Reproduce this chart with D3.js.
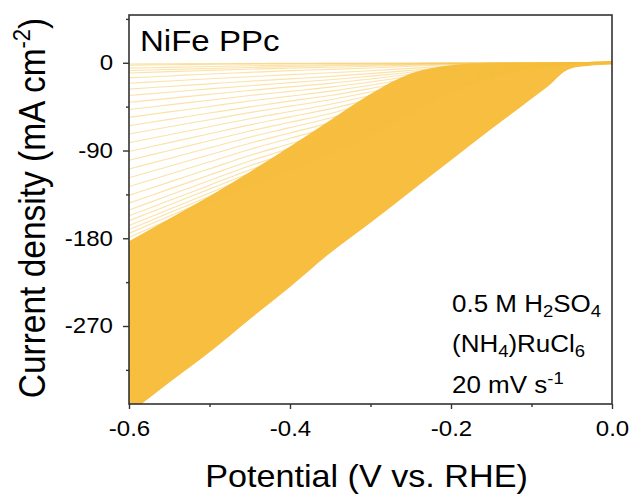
<!DOCTYPE html>
<html>
<head>
<meta charset="utf-8">
<script src="https://cdn.jsdelivr.net/npm/d3@7"></script>
<style>
  html, body { margin: 0; padding: 0; background: #fff; }
  svg { display: block; font-family: "Liberation Sans", Arial, Helvetica, sans-serif; }
</style>
</head>
<body>
<svg id="chart" width="635" height="499"></svg>
<script>
// Potential grid (V vs. RHE) for the individual LSV scans
const potentials = [-0.6, -0.55, -0.5, -0.45, -0.4, -0.35, -0.3, -0.25, -0.2, -0.15, -0.1, 0];

// Current density (mA cm-2) of the later, well separated scans
const scans = [
  [-1.2, -1.0, -0.8, -0.7, -0.5, -0.4, -0.3, -0.2, -0.1, 0, 0, 0],
  [-2.5, -2.1, -1.7, -1.4, -1.1, -0.9, -0.7, -0.5, -0.3, -0.1, 0, 0],
  [-5.5, -4.7, -3.9, -3.1, -2.5, -2.0, -1.5, -1.0, -0.6, -0.3, -0.1, 0],
  [-8.0, -6.9, -5.8, -4.8, -3.9, -3.1, -2.4, -1.6, -0.9, -0.4, -0.1, 0],
  [-10.5, -9.1, -7.8, -6.6, -5.5, -4.6, -3.6, -2.4, -1.4, -0.6, -0.2, 0],
  [-15.5, -13.5, -11.5, -9.8, -8.1, -6.8, -5.3, -3.6, -2.0, -0.9, -0.3, 0],
  [-21, -18.7, -16.4, -14.3, -12.2, -10.3, -8.2, -5.7, -3.4, -1.7, -0.6, 0],
  [-27, -24.3, -21.6, -18.9, -16.5, -14.0, -11.1, -7.8, -4.6, -2.2, -0.8, 0],
  [-33.5, -30.2, -26.8, -23.5, -20.4, -17.4, -13.7, -9.7, -5.7, -2.7, -1.0, 0],
  [-40.5, -36.5, -32.4, -28.4, -24.7, -21.1, -16.6, -11.7, -6.9, -3.2, -1.2, 0],
  [-48, -43.2, -38.4, -33.6, -29.3, -25.0, -19.7, -13.9, -8.2, -3.8, -1.4, 0],
  [-56, -50.4, -44.8, -39.2, -34.2, -29.1, -23.0, -16.2, -9.5, -4.5, -1.7, 0],
  [-64.5, -58.1, -51.6, -45.2, -39.3, -33.5, -26.4, -18.7, -11.0, -5.2, -1.9, 0],
  [-73, -65.7, -58.4, -51.1, -44.5, -38.0, -29.9, -21.2, -12.4, -5.8, -2.2, 0],
  [-82, -73.8, -65.6, -57.4, -50.0, -42.6, -33.6, -23.8, -13.9, -6.6, -2.5, 0],
  [-91, -81.9, -72.8, -63.7, -55.5, -47.3, -37.3, -26.4, -15.5, -7.3, -2.7, 0],
  [-100, -90, -80, -70, -61, -52, -41, -29, -17, -8, -3, 0],
  [-109, -98.1, -87.2, -76.3, -66.5, -56.7, -44.7, -31.6, -18.5, -8.7, -3.3, 0],
  [-118, -106.2, -94.4, -82.6, -72.0, -61.4, -48.4, -34.2, -20.1, -9.4, -3.5, 0],
  [-127, -114.3, -101.6, -88.9, -77.5, -66.0, -52.1, -36.8, -21.6, -10.2, -3.8, 0],
  [-136, -122.4, -108.8, -95.2, -83.0, -70.7, -55.8, -39.4, -23.1, -10.9, -4.1, 0],
  [-144, -129.6, -115.2, -100.8, -87.8, -74.9, -59.0, -41.8, -24.5, -11.5, -4.3, 0],
  [-151, -135.9, -120.8, -105.7, -92.1, -78.5, -61.9, -43.8, -25.7, -12.1, -4.5, 0],
  [-157, -141.3, -125.6, -109.9, -95.8, -81.6, -64.4, -45.5, -26.7, -12.6, -4.7, 0],
  [-162, -145.8, -129.6, -113.4, -98.8, -84.2, -66.4, -47.0, -27.5, -13.0, -4.9, 0],
  [-167, -150.3, -133.6, -116.9, -101.9, -86.8, -68.5, -48.4, -28.4, -13.4, -5.0, 0],
  [-171, -153.9, -136.8, -119.7, -104.3, -88.9, -70.1, -49.6, -29.1, -13.7, -5.1, 0],
  [-175, -157.5, -140, -122.5, -106.8, -91, -71.8, -50.8, -29.8, -14, -5.3, 0],
  [-179, -161.1, -143.2, -125.3, -109.2, -93.1, -73.4, -51.9, -30.4, -14.3, -5.4, 0]
];

// Densely overlapping early scans, drawn as one band:
// lower edge = first scan, upper edge = where the scans merge
const bandPotentials = [-0.6, -0.55, -0.5, -0.45, -0.4, -0.35, -0.3, -0.25, -0.2, -0.15, -0.1, -0.075, -0.06, -0.05, -0.03, -0.015, 0];
const bandLower = [-360, -328, -297, -263, -230, -195, -164, -132, -100, -68, -37, -21, -9.5, -5.5, -3.2, -2.4, -1.8];
const bandUpper = [-183, -160, -137, -112, -86, -59, -32, -11, -2.5, -0.3, 0, 0, 0, 0.3, 0.8, 1.5, 1.8];

// Axis ticks
const xTicks = [-0.6, -0.4, -0.2, 0.0];
const xMinorTicks = [-0.5, -0.3, -0.1];
const yTicks = [0, -90, -180, -270];
const yMinorTicks = [45, -45, -135, -225, -315];

const xTitle = "Potential (V vs. RHE)";
const sampleLabel = "NiFe PPc";

const W = 635, H = 499;
const margin = { left: 129, right: 23, top: 15, bottom: 95 };
const plotW = W - margin.left - margin.right;
const plotH = H - margin.top - margin.bottom;
const gold = "#F7BE3F";
const axisColor = "#333333";
const stretch = 1.12; // horizontal glyph width factor

const svg = d3.select("#chart");
const g = svg.append("g").attr("transform", `translate(${margin.left},${margin.top})`);

const x = d3.scaleLinear().domain([-0.6, 0]).range([0, plotW]);
const y = d3.scaleLinear().domain([-350, 49]).range([plotH, 0]);

g.append("clipPath").attr("id", "plotClip")
  .append("rect").attr("width", plotW).attr("height", plotH);

const plot = g.append("g").attr("clip-path", "url(#plotClip)");

// dense band of overlapping scans
const bandData = bandPotentials.map((v, i) => ({ v, lo: bandLower[i], hi: bandUpper[i] }));
plot.append("path")
  .datum(bandData)
  .attr("fill", gold)
  .attr("d", d3.area()
    .x(d => x(d.v))
    .y0(d => y(d.lo))
    .y1(d => y(d.hi))
    .curve(d3.curveMonotoneX));

// individual scans
const line = d3.line()
  .x((d, i) => x(potentials[i]))
  .y(d => y(d))
  .curve(d3.curveMonotoneX);

plot.selectAll("path.scan")
  .data(scans)
  .join("path")
  .attr("class", "scan")
  .attr("fill", "none")
  .attr("stroke", gold)
  .attr("stroke-opacity", 0.45)
  .attr("stroke-width", 1.1)
  .attr("d", line);

// axes
function styleAxis(sel) {
  sel.select(".domain").remove();
  sel.selectAll(".tick line").attr("stroke", axisColor).attr("stroke-width", 1.4);
  sel.selectAll(".tick text").attr("fill", "#000").attr("font-size", 21.5);
}

const xAxis = g.append("g").attr("transform", `translate(0,${plotH})`)
  .call(d3.axisBottom(x).tickValues(xTicks).tickSize(5).tickPadding(12)
    .tickFormat(d => d.toFixed(1)));
styleAxis(xAxis);
xAxis.selectAll(".tick text").attr("transform", `scale(${stretch},1)`);

const xMinor = g.append("g").attr("transform", `translate(0,${plotH})`)
  .call(d3.axisBottom(x).tickValues(xMinorTicks).tickSize(3).tickFormat(""));
styleAxis(xMinor);

const yAxis = g.append("g")
  .call(d3.axisLeft(y).tickValues(yTicks).tickSize(6).tickPadding(10)
    .tickFormat(d => String(d)));
styleAxis(yAxis);
yAxis.selectAll(".tick text")
  .attr("x", -16 / stretch)
  .attr("transform", `scale(${stretch},1)`);

const yMinor = g.append("g")
  .call(d3.axisLeft(y).tickValues(yMinorTicks).tickSize(3).tickFormat(""));
styleAxis(yMinor);

// frame
g.append("rect")
  .attr("width", plotW).attr("height", plotH)
  .attr("fill", "none").attr("stroke", axisColor).attr("stroke-width", 1.6);

// text helper with horizontal stretch
function stretchedText(px, py, rot) {
  return svg.append("g")
    .attr("transform", `translate(${px},${py}) scale(${stretch},1)` + (rot ? ` rotate(${rot})` : ""))
    .append("text").attr("fill", "#000");
}

// x title
stretchedText(margin.left + plotW / 2 - 4, 487)
  .attr("text-anchor", "middle").attr("font-size", 30.5)
  .text(xTitle);

// y title
const yt = stretchedText(45, 208, -90)
  .attr("text-anchor", "middle").attr("font-size", 33.5);
yt.append("tspan").text("Current density (mA cm");
yt.append("tspan").attr("font-size", 22).attr("dy", -13).text("-2");
yt.append("tspan").attr("dy", 13).text(")");

// sample label
stretchedText(140, 51).attr("font-size", 29.5).text(sampleLabel);

// conditions
const condX = 452;
const c1 = stretchedText(condX, 312).attr("font-size", 23.2);
c1.append("tspan").text("0.5 M H");
c1.append("tspan").attr("font-size", 16.5).attr("dy", 5).text("2");
c1.append("tspan").attr("dy", -5).text("SO");
c1.append("tspan").attr("font-size", 16.5).attr("dy", 5).text("4");

const c2 = stretchedText(condX, 352).attr("font-size", 23.2);
c2.append("tspan").text("(NH");
c2.append("tspan").attr("font-size", 16.5).attr("dy", 5).text("4");
c2.append("tspan").attr("dy", -5).text(")RuCl");
c2.append("tspan").attr("font-size", 16.5).attr("dy", 5).text("6");

const c3 = stretchedText(condX, 393).attr("font-size", 23.2);
c3.append("tspan").text("20 mV s");
c3.append("tspan").attr("font-size", 16.5).attr("dy", -9).text("-1");
</script>
</body>
</html>
